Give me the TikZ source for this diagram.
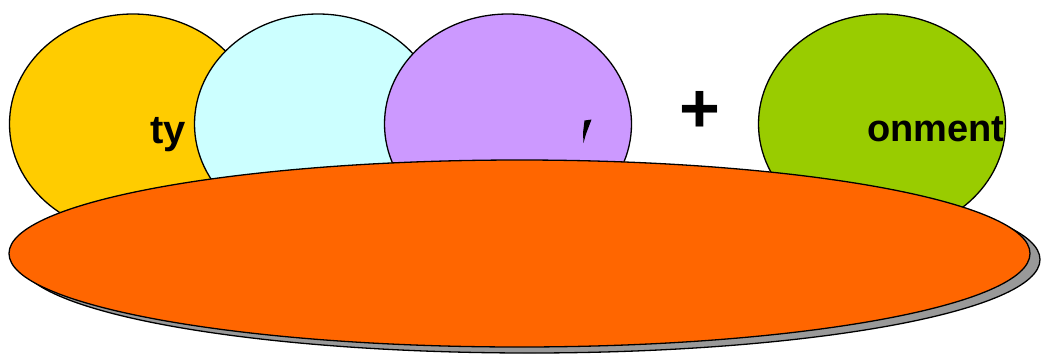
\documentclass[tikz,border=0pt]{standalone}
\usepackage{fontspec}
\setmainfont{Liberation Sans}
\usetikzlibrary{shapes.geometric}
\definecolor{cYellow}{HTML}{FFCC00}
\definecolor{cCyan}{HTML}{CCFFFF}
\definecolor{cPurple}{HTML}{CC99FF}
\definecolor{cGreen}{HTML}{99CC00}
\definecolor{cOrange}{HTML}{FF6600}
\definecolor{cShadow}{HTML}{999999}
\tikzset{
  bubble/.style={ellipse, draw=black, line width=1.3pt, inner sep=0pt,
    minimum width=247pt, minimum height=220pt},
  plate/.style={ellipse, draw=black, line width=1.3pt, inner sep=0pt,
    minimum width=1021pt, minimum height=187pt},
  lbl/.style={inner sep=0pt, font=\fontsize{40}{46}\selectfont\bfseries},
}
\begin{document}
\begin{tikzpicture}[x=1pt,y=-1pt]
\useasboundingbox (0,0) rectangle (1041,354);
\node[bubble, fill=cYellow] (yellow) at (133,124) {};
\node[lbl, anchor=base east] (ty) at (186,143) {ty};
\node[bubble, fill=cCyan] (cyan) at (318,124) {};
\node[bubble, fill=cPurple] (purple) at (508,124) {};
\fill[black] (584.5,120.5) -- (591.5,119.5) -- (586,134) -- (583.5,143) -- (583,133) -- cycle;
\node[inner sep=0pt, font=\fontsize{70}{74}\selectfont\bfseries] (plus) at (700,112) {+};
\node[bubble, fill=cGreen] (green) at (882,124) {};
\node[lbl, anchor=base west, font=\fontsize{38}{44}\selectfont\bfseries] (onm) at (867,141) {onment};
\node[plate, fill=cShadow] (shadow) at (529.5,259.5) {};
\node[plate, fill=cOrange] (orange) at (519.5,253.5) {};
\end{tikzpicture}
\end{document}
